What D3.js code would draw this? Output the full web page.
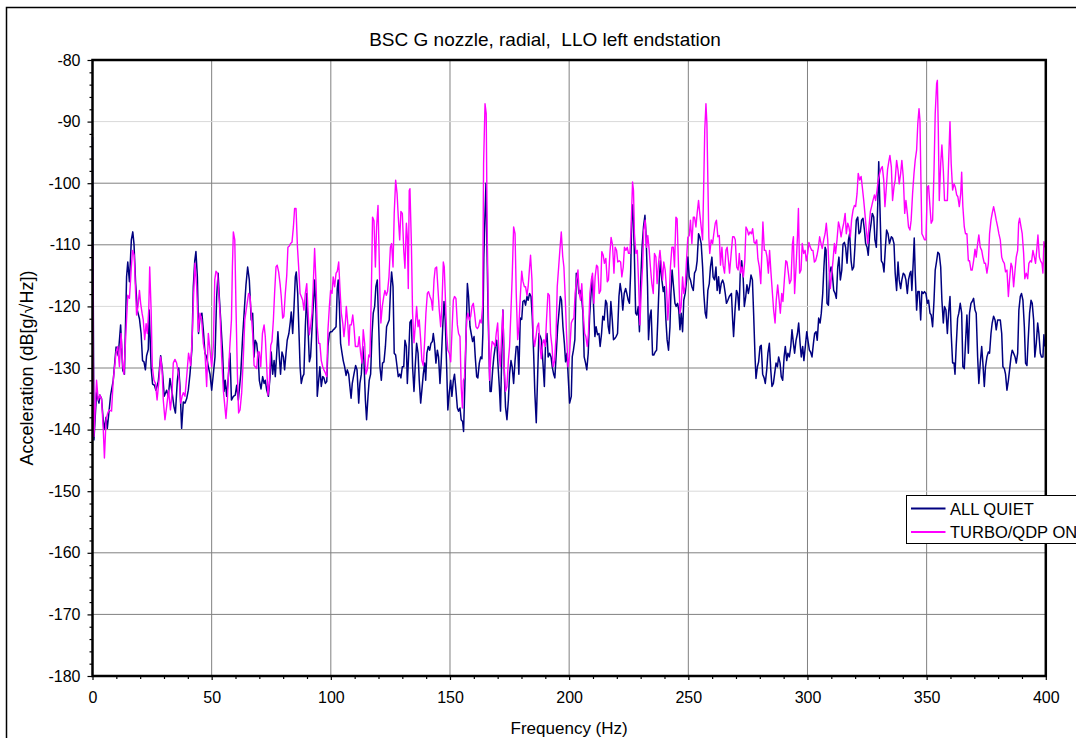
<!DOCTYPE html>
<html>
<head>
<meta charset="utf-8">
<script src="https://cdn.jsdelivr.net/npm/d3@7"></script>
<style>
	body { margin: 0; background: #fff; }
	svg { display: block; font-family: 'Liberation Sans', Arial, sans-serif; }
</style>
</head>
<body>
<script>
const title = 'BSC G nozzle, radial,  LLO left endstation';
const xTitle = 'Frequency (Hz)';
const yTitle = 'Acceleration (dB[g/\u221AHz])';
const seriesNames = ['ALL QUIET', 'TURBO/QDP ON'];

const xTicks = [0, 50, 100, 150, 200, 250, 300, 350, 400];
const xMinorTicks = [10, 20, 30, 40, 60, 70, 80, 90, 110, 120, 130, 140, 160, 170, 180, 190, 210, 220, 230, 240, 260, 270, 280, 290, 310, 320, 330, 340, 360, 370, 380, 390];
const yTicks = [-180, -170, -160, -150, -140, -130, -120, -110, -100, -90, -80];
const yLightGrid = [-90, -120, -150];

// ALL QUIET
const quietHz = [
	0, 0.6, 1.7, 2.7, 3.1, 3.8, 4.8, 5.7, 6.2, 7, 7.6, 8.7, 9.9, 10.8, 11.8, 12.7, 13.4, 14.3, 14.8, 15.5,
	16.3, 16.9, 17.4, 18.1, 18.8, 19.7, 20.4, 21, 21.6, 22.2, 22.7, 23.4, 23.8, 24.6, 25.2, 26, 26.6, 27.6, 28.6, 29.3,
	30.1, 31.1, 31.8, 32.5, 33.4, 34.2, 34.8, 35.6, 36.2, 36.7, 37.4, 38.1, 38.8, 39.5, 40.2, 40.9, 41.7, 42.3, 42.9, 43.4,
	44, 44.5, 45.1, 45.9, 46.5, 47.2, 47.9, 48.6, 49.3, 50, 50.7, 51.4, 52.1, 52.7, 53.2, 53.8, 54.6, 55.2, 55.7, 56.3,
	56.9, 57.7, 58.3, 59.1, 59.9, 60.5, 61.2, 62.2, 63, 63.8, 64.4, 65.1, 65.8, 66.6, 67.2, 67.8, 68.3, 68.9, 69.6, 70,
	70.7, 71.4, 72, 72.5, 73.1, 73.8, 74.5, 75, 75.6, 76.2, 76.7, 77.3, 77.8, 78.4, 78.9, 79.5, 80.1, 80.6, 81.2, 81.7,
	82.4, 83, 83.4, 84, 84.5, 85.1, 85.5, 86.1, 86.6, 87.1, 87.6, 88.2, 88.7, 89.3, 89.9, 90.4, 91, 91.5, 92.1, 92.6,
	93.2, 93.8, 94.3, 94.9, 95.4, 96, 96.6, 97.1, 97.7, 98.3, 98.8, 99.4, 99.9, 100.5, 101, 101.6, 102.2, 102.7, 103.1, 103.6,
	104.1, 104.7, 105.2, 105.8, 106.4, 106.9, 107.5, 108, 108.5, 109, 109.7, 110.4, 111, 111.7, 112.2, 112.8, 113.4, 113.9, 114.5, 115,
	115.6, 116.1, 116.7, 117.3, 117.8, 118.4, 118.9, 119.5, 120.1, 120.6, 121.2, 121.7, 122.3, 122.9, 123.4, 124, 124.5, 125.1, 125.5, 126.1,
	126.6, 127.2, 127.8, 128.3, 128.9, 129.4, 130, 130.6, 131.1, 131.7, 132.1, 132.7, 133.2, 133.8, 134.3, 134.9, 135.4, 136, 136.6, 137.1,
	137.7, 138.2, 138.8, 139.4, 139.8, 140.3, 140.9, 141.5, 142, 142.6, 143, 143.5, 144.1, 144.7, 145.2, 145.8, 146.3, 146.9, 147.5, 148,
	148.6, 149.1, 149.7, 150.3, 150.8, 151.4, 151.9, 152.5, 153.1, 153.6, 154.2, 154.7, 155.3, 155.7, 156.3, 156.7, 157.3, 157.8, 158.4, 158.9,
	159.5, 160.1, 160.6, 161.2, 161.7, 162.3, 162.9, 163.4, 163.8, 164.2, 164.7, 165.1, 165.5, 165.9, 166.3, 166.8, 167.3, 167.9, 168.4, 169,
	169.6, 170.1, 170.7, 171.2, 171.8, 172.2, 172.8, 173.3, 173.9, 174.5, 175, 175.6, 176.1, 176.7, 177.3, 177.8, 178.4, 178.9, 179.5, 180.1,
	180.6, 181.2, 181.7, 182.3, 182.8, 183.4, 184, 184.5, 185.1, 185.6, 186.2, 186.8, 187.3, 187.9, 188.4, 189, 189.6, 190.1, 190.7, 191.2,
	191.8, 192.4, 192.9, 193.5, 194, 194.6, 195.2, 195.7, 196.3, 196.8, 197.4, 198, 198.5, 199.1, 199.6, 200.2, 200.9, 201.3, 201.8, 202.4,
	203, 203.5, 204.1, 204.6, 205.2, 205.8, 206.3, 206.9, 207.4, 208, 208.6, 209.1, 209.7, 210.2, 210.8, 211.3, 211.9, 212.5, 213, 213.6,
	214.1, 214.7, 215.3, 215.8, 216.4, 216.9, 217.5, 218.1, 218.6, 219.2, 219.7, 220.3, 220.9, 221.4, 222, 222.5, 223.1, 223.7, 224.2, 224.8,
	225.3, 225.8, 226.3, 226.7, 227.3, 227.9, 228.4, 229, 229.5, 230.1, 230.6, 231.2, 231.8, 232.3, 232.9, 233.3, 233.9, 234.4, 235, 235.5,
	236.1, 236.7, 237.2, 237.8, 238.3, 238.9, 239.5, 240, 240.6, 241.1, 241.7, 242.3, 242.7, 243.2, 243.8, 244.4, 244.9, 245.5, 246, 246.5,
	247, 247.6, 248.1, 248.7, 249.3, 249.8, 250.4, 250.9, 251.5, 252.1, 252.6, 253.2, 253.7, 254.3, 254.8, 255.4, 256, 256.5, 257.1, 257.6,
	258.2, 258.8, 259.3, 259.9, 260.4, 261, 261.6, 262.1, 262.7, 263.2, 263.8, 264.4, 264.9, 265.5, 266, 266.6, 267.2, 268.1, 268.6, 269,
	269.6, 270.2, 270.7, 271.3, 271.8, 272.4, 273, 273.5, 274.1, 274.6, 275.2, 275.8, 276.3, 276.9, 277.4, 278, 278.4, 279, 279.5, 280.1,
	280.6, 281.2, 281.8, 282.3, 282.9, 283.4, 284, 284.6, 285.1, 285.7, 286.2, 286.8, 287.4, 287.9, 288.5, 289, 289.6, 290.2, 290.7, 291.3,
	291.8, 292.4, 293, 293.5, 294.1, 294.6, 295.2, 295.8, 296.3, 296.9, 297.4, 298, 298.5, 299.1, 299.7, 300.2, 300.8, 301.3, 301.9, 302.5,
	303, 303.6, 304.1, 304.7, 305.3, 305.8, 306.4, 306.9, 307.4, 307.8, 308.2, 308.8, 309.3, 309.9, 310.4, 311, 311.6, 312.1, 312.7, 313.2,
	313.8, 314.4, 314.9, 315.5, 316, 316.6, 317.2, 317.7, 318.3, 318.8, 319.4, 319.9, 320.5, 321.1, 321.6, 322.2, 322.7, 323.3, 323.9, 324.4,
	325, 325.5, 326.1, 326.7, 327.2, 327.8, 328.3, 328.9, 329.5, 329.9, 330.4, 331, 331.6, 332.1, 332.7, 333.2, 333.8, 334.4, 335.2, 335.7,
	336.3, 336.8, 337.4, 338, 338.5, 339.1, 339.6, 340.2, 340.8, 341.3, 341.9, 342.4, 343, 343.4, 343.8, 344.4, 344.8, 345.2, 345.8, 346.3,
	346.9, 347.5, 348, 348.6, 349.1, 349.7, 350.3, 350.8, 351.4, 351.9, 352.5, 353.1, 353.6, 354.2, 354.7, 355.3, 355.9, 356.4, 357, 357.5,
	358.1, 358.7, 359.2, 359.8, 360.3, 360.9, 361.5, 361.9, 362.4, 363, 363.5, 364.1, 364.7, 365.2, 365.8, 366.3, 366.9, 367.5, 368, 368.6,
	369.1, 369.7, 370.3, 370.8, 371.4, 371.9, 372.5, 373.1, 373.6, 374.2, 374.7, 375.3, 375.9, 376.4, 377, 377.5, 378.1, 378.7, 379.2, 379.8,
	380.3, 380.9, 381.5, 382, 382.6, 383.1, 383.7, 384.3, 384.8, 385.4, 385.9, 386.5, 387.1, 387.6, 388.2, 388.7, 389.3, 389.8, 390.4, 391,
	391.5, 392.1, 392.6, 393.2, 393.8, 394.3, 394.9, 395.4, 396, 396.6, 397.1, 397.7, 398.2, 398.8, 399.2, 399.5
];
const quietDb = [
	-92.5, -141.7, -134, -135.7, -134.4, -135, -140, -138, -139.8, -136.8, -134.4, -132, -126.6, -128, -123, -130.4, -131, -115.2, -112.8, -116,
	-109.2, -107.9, -109.8, -116.3, -120.6, -122, -124.4, -128.8, -129, -130.3, -128, -127, -120.6, -130, -132.6, -132.8, -133.6, -132.2, -128, -130.3,
	-134.6, -133.6, -134.6, -131.7, -134, -136.3, -137.3, -132, -130, -133, -139.8, -135.5, -135.7, -135, -133.6, -131, -127, -116.8, -112.6, -111.1,
	-115.2, -124.4, -121.7, -121.1, -123.8, -127.6, -128.2, -129.8, -131, -133.6, -131, -128.2, -118.4, -114.6, -118.4, -122.2, -127.6, -133.8, -132, -134.6,
	-132, -127.6, -135.2, -134.6, -134.4, -132.8, -135.2, -131, -124.9, -120, -116.5, -113.6, -115.7, -122.2, -121.1, -128.2, -125.5, -126, -128.8, -132,
	-133.4, -131.4, -132.5, -132, -133.6, -134.6, -131.4, -127.4, -131, -128.8, -131.4, -127.6, -124.1, -128.2, -131, -127.4, -128.2, -130.3, -127.6, -125.5,
	-124.4, -122.5, -120.9, -124.4, -120.6, -115.2, -114.4, -117.9, -123.8, -129.8, -132.5, -131.4, -131, -123.3, -117.9, -123.3, -129, -128.2, -123.8, -120,
	-115.7, -121.1, -134.6, -132, -129.8, -133, -131.4, -131.6, -132.5, -132.2, -126.5, -124.4, -124.1, -124.1, -123.8, -123.6, -123.3, -117.1, -115.7, -120,
	-126, -127.6, -128.8, -129.8, -131.2, -130.3, -131, -133, -134.9, -132.5, -131, -129.6, -130.3, -135.7, -132.5, -131, -126.5, -128.8, -135.2, -138.4,
	-134.6, -132, -131, -124.4, -121.1, -120, -116.8, -115.7, -123.3, -129.8, -132, -129.2, -129, -126.5, -123.3, -122.7, -122.2, -116.8, -114.4, -116.8,
	-127.6, -127.9, -129.8, -131.4, -131, -131.6, -129.8, -129.8, -125.5, -126.5, -132.5, -127.6, -122.6, -122.2, -129.8, -133.8, -129.8, -126, -127.6, -132,
	-135.7, -133.6, -131, -129.2, -132, -127.6, -126.5, -127.1, -126, -125.7, -124.4, -126, -129.2, -127.1, -128.2, -132.5, -129.2, -123.8, -119.2, -122.2,
	-129.8, -136.8, -134, -132, -134.6, -132, -131, -133.6, -136.5, -137, -136.5, -138.4, -138.7, -140.3, -132, -125.5, -116.3, -118.4, -123.3, -124.4,
	-125.7, -124.9, -128.2, -131.4, -131.6, -129.2, -128.2, -128.5, -124.4, -112, -105, -100, -110, -119, -126.5, -133.8, -133.8, -130.3, -128.2, -126.5,
	-125.5, -129.2, -133, -137, -126.5, -120.6, -131, -136.3, -138.4, -135.2, -131, -128.8, -129.8, -132.5, -128.8, -126.5, -126.5, -131, -121.9, -122.1,
	-119.2, -119, -119.8, -118.4, -119, -117.9, -118.4, -121.6, -127.6, -134, -138.9, -131, -124.4, -124.9, -125.5, -129.2, -133, -126, -124.4, -128.2,
	-127.6, -128.2, -129.8, -131, -131.6, -127.6, -123.3, -121.1, -118.4, -119, -123.3, -126, -129, -127.6, -131.4, -135.7, -134.6, -128.2, -127.1, -125.4,
	-114.6, -115.2, -117.9, -117.4, -118.4, -121.1, -128.2, -129.2, -130.3, -127.6, -121.6, -118.4, -115.2, -119.5, -124.9, -123.3, -124.6, -124.4, -126.5, -124.4,
	-121.6, -122.2, -119, -119.5, -123.3, -124.4, -119.2, -122.2, -125.4, -125.2, -124.9, -124.4, -118.4, -116.3, -117.9, -120.6, -117.9, -117.1, -117.9, -119,
	-119.5, -114.6, -105, -103.5, -110.4, -121.1, -121.4, -120, -124.1, -115.2, -110.4, -107.1, -105.2, -108.7, -116.8, -125.4, -121.6, -120.6, -127.9, -127.9,
	-127.4, -127.1, -122.2, -115.7, -112.6, -115.7, -117.6, -116.8, -122.2, -125.4, -127.1, -123.3, -117.9, -114.1, -116.8, -119.5, -120, -119.5, -120.6, -123.8,
	-121.1, -124.1, -119, -117.9, -115.7, -112, -115.2, -115.7, -116.8, -117.4, -114.6, -114.1, -112.6, -108.2, -108.7, -109.8, -113.6, -117.9, -121.1, -121.9,
	-117.4, -116.3, -113.6, -112, -115.2, -115.7, -113.6, -117.4, -115.2, -117.9, -116.3, -115.7, -116.3, -117.9, -119.5, -119, -118.4, -117.9, -122.2, -124.9,
	-120.6, -117.4, -117.9, -120.6, -114.6, -112.6, -115.2, -120, -118.4, -116.5, -117.9, -116.5, -114.9, -115.7, -121.1, -128.2, -131.7, -129.8, -129, -126.5,
	-126.3, -131, -131.6, -132.5, -130.3, -127.6, -126, -130.3, -133, -132.5, -131, -129.2, -129.8, -128.2, -129.2, -131.4, -132, -128.2, -126.5, -128.8,
	-127.6, -128.2, -126.5, -123.8, -126, -127.6, -125.5, -124.4, -122.7, -126, -128.2, -126.5, -128.8, -126.5, -124.1, -125.5, -127.1, -127.4, -128.2, -126,
	-124.4, -124.1, -125.5, -121.9, -122.7, -121.1, -117.9, -113.6, -110.4, -110.9, -119.5, -119.8, -114.6, -113.6, -114.6, -117.4, -117.9, -118.7, -113.6, -112,
	-115.7, -114.1, -109.9, -109.6, -110.4, -113, -109.2, -108.2, -112.6, -114.1, -113.6, -110.4, -106, -105.5, -108.2, -107.9, -106, -105.7, -107.6, -109.8,
	-110.4, -111.7, -108.2, -106.5, -104.9, -105.5, -109.2, -110.4, -103.3, -96.5, -103.8, -112.6, -113, -114.4, -110.4, -107.6, -108.2, -109.8, -108.7, -108.9,
	-109.8, -114.6, -117.4, -112.8, -115.7, -117.1, -115.7, -114.6, -114.9, -115.7, -117.9, -115.7, -114.6, -114.3, -117.4, -112.6, -108.9, -114.6, -120.6, -117.6,
	-117.6, -122.2, -117.6, -117.9, -117.6, -117.9, -119.5, -119, -121.1, -121.4, -123.3, -119, -114.1, -112.6, -111.2, -111.5, -113.6, -119, -122.7, -120,
	-120.6, -124.4, -121.1, -118.4, -124.4, -129.2, -129.2, -131, -126.5, -121.9, -121.1, -119.5, -121.1, -129.8, -130.1, -126, -121.4, -127.6, -121.1, -119.5,
	-119.2, -118.7, -120.6, -121.1, -128.2, -132.5, -129.2, -126.5, -129.2, -133, -129.8, -128.2, -127.4, -127.6, -124.4, -122.7, -121.6, -122.2, -123.8, -122.2,
	-122.2, -122.2, -124.4, -129.8, -130.1, -131, -133.6, -132, -130.3, -128.2, -127.1, -127.6, -128.2, -129.2, -127.6, -120.6, -118.4, -117.9, -119, -123.3,
	-129.2, -129.6, -125.5, -121.1, -119, -119.5, -122.2, -128.2, -126, -122.7, -124.4, -127.6, -128.2, -128.2, -124.6, -126.5
];

// TURBO/QDP ON
const turboHz = [
	0, 0.6, 1.7, 2.4, 3.1, 3.8, 4.5, 5, 5.7, 6.4, 7, 8, 8.7, 9.9, 10.6, 11.3, 12, 12.7, 13.2, 14,
	14.8, 15.5, 16.3, 16.8, 17.5, 18.1, 18.5, 19.1, 19.7, 20.2, 20.8, 21.3, 21.9, 22.5, 23, 23.6, 24, 24.6, 25.1, 25.8,
	26.4, 27.1, 27.9, 28.6, 29.2, 29.7, 30.4, 31.1, 31.9, 32.7, 33.4, 33.9, 34.6, 35.3, 36, 36.4, 37, 37.6, 38.1, 38.8,
	39.5, 40.3, 41.2, 41.9, 42.4, 43, 43.7, 44.4, 45.1, 45.8, 46.5, 47.2, 47.9, 48.6, 49.3, 50, 50.7, 51.3, 51.8, 52.4,
	52.9, 53.5, 54.2, 54.9, 55.4, 56, 56.6, 57.1, 57.7, 58.3, 58.7, 59.1, 59.7, 60.2, 60.8, 61.3, 61.9, 62.6, 63.3, 63.9,
	64.7, 65.5, 66.1, 66.6, 67.2, 67.8, 68.3, 68.9, 69.4, 70, 70.6, 71.3, 72, 72.5, 73.1, 73.6, 74.2, 74.8, 75.3, 75.9,
	76.4, 77, 77.5, 78.1, 78.7, 79.2, 79.8, 80.3, 80.9, 81.5, 82, 82.6, 83.1, 83.7, 84.3, 84.8, 85.4, 86, 86.5, 87.1,
	87.6, 88.2, 88.7, 89.3, 89.9, 90.4, 91, 91.5, 92.1, 92.6, 93.2, 93.8, 94.3, 94.9, 95.4, 96, 96.6, 97.1, 97.7, 98.3,
	98.8, 99.4, 99.9, 100.5, 101, 101.6, 102.2, 102.7, 103.3, 103.8, 104.4, 105, 105.5, 106.1, 106.5, 107.1, 107.6, 108, 108.6, 109.2,
	109.7, 110.3, 110.8, 111.4, 111.9, 112.5, 113.1, 113.6, 114.2, 114.7, 115.3, 115.9, 116.4, 117, 117.5, 118.1, 118.7, 119.2, 119.8, 120.2,
	120.6, 121, 121.6, 122.2, 122.7, 123.3, 123.8, 124.4, 125, 125.5, 126.1, 126.6, 127.2, 127.8, 128.3, 128.9, 129.4, 130, 130.6, 131.1,
	131.7, 132.1, 132.5, 132.9, 133.2, 133.8, 134.3, 134.9, 135.4, 136, 136.6, 137.1, 137.7, 138.2, 138.8, 139.4, 139.9, 140.5, 141, 141.6,
	142.2, 142.7, 143.3, 143.8, 144.4, 144.9, 145.5, 146.1, 146.6, 147.2, 147.6, 148, 148.6, 149.1, 149.7, 150.3, 150.8, 151.4, 151.9, 152.5,
	153.1, 153.6, 154.2, 154.7, 155.2, 155.6, 156.1, 156.6, 157, 157.5, 158.1, 158.7, 159.2, 159.8, 160.3, 160.9, 161.5, 162, 162.6, 163.1,
	163.7, 164.1, 164.7, 165.2, 165.6, 166.1, 166.6, 167.2, 167.7, 168.3, 168.9, 169.4, 170, 170.5, 171.1, 171.7, 172.2, 172.8, 173.3, 173.9,
	174.5, 175, 175.6, 176.1, 176.7, 177.3, 177.8, 178.4, 178.9, 179.5, 180.1, 180.6, 181.2, 181.7, 182.3, 182.8, 183.4, 183.8, 184.4, 184.9,
	185.5, 186.1, 186.6, 187.2, 187.7, 188.3, 188.9, 189.4, 190, 190.5, 191.1, 191.7, 192.2, 192.8, 193.3, 193.9, 194.5, 195, 195.6, 196.1,
	196.7, 197.3, 197.8, 198.4, 198.9, 199.5, 200.1, 200.9, 201.4, 202, 202.5, 203.1, 203.7, 204.2, 204.8, 205.3, 205.9, 206.5, 207, 207.6,
	208.1, 208.7, 209.3, 209.8, 210.4, 210.9, 211.5, 212, 212.6, 213.2, 213.7, 214.3, 214.8, 215.4, 216, 216.5, 217.1, 217.6, 218.2, 218.8,
	219.3, 219.9, 220.4, 221, 221.6, 222.1, 222.7, 223.2, 223.8, 224.4, 224.9, 225.5, 226, 226.6, 227, 227.4, 228, 228.6, 229.1, 229.7,
	230.2, 230.8, 231.3, 231.9, 232.5, 233, 233.6, 234.1, 234.7, 235.3, 235.8, 236.4, 236.9, 237.5, 238.1, 238.6, 239.2, 239.7, 240.3, 240.9,
	241.4, 242, 242.5, 243.1, 243.7, 244.2, 244.8, 245.3, 245.9, 246.5, 247, 247.6, 248.1, 248.7, 249.2, 249.8, 250.4, 250.9, 251.5, 252.1,
	252.6, 253.2, 253.7, 254.3, 254.8, 255.4, 256, 256.5, 256.9, 257.4, 257.8, 258.2, 258.6, 259, 259.6, 260.2, 260.7, 261.3, 261.8, 262.4,
	263, 263.5, 264.1, 264.6, 265.2, 265.8, 266.3, 266.9, 267.3, 268.1, 268.6, 269.2, 269.7, 270.3, 270.9, 271.4, 272, 272.5, 273.1, 273.7,
	274.2, 274.8, 275.3, 275.9, 276.5, 277, 277.6, 278.1, 278.7, 279.2, 279.8, 280.4, 280.9, 281.3, 281.9, 282.5, 283, 283.6, 284.1, 284.7,
	285.3, 285.8, 286.4, 286.9, 287.5, 288.1, 288.6, 289.2, 289.7, 290.3, 290.9, 291.4, 292, 292.5, 293.1, 293.7, 294.1, 294.6, 295.2, 295.8,
	296.2, 296.7, 297.3, 297.8, 298.4, 299, 299.5, 300.1, 300.6, 301.2, 301.8, 302.3, 302.9, 303.4, 304, 304.6, 305.1, 305.7, 306.2, 306.8,
	307.4, 307.9, 308.5, 309, 309.6, 310.2, 310.7, 311.3, 311.8, 312.4, 313, 313.5, 314.1, 314.6, 315.2, 315.8, 316.3, 316.9, 317.4, 318,
	318.5, 319.1, 319.7, 320.2, 320.8, 321.3, 321.9, 322.5, 323, 323.6, 324.1, 324.7, 325.3, 325.8, 326.4, 326.9, 327.5, 328.1, 328.6, 329.2,
	329.7, 330.3, 330.9, 331.4, 332, 332.5, 333.1, 333.6, 334.2, 334.6, 335.2, 335.7, 336.3, 336.8, 337.4, 338, 338.5, 339.1, 339.6, 340.2,
	340.8, 341.3, 341.9, 342.4, 343, 343.5, 344.1, 344.7, 345.2, 345.8, 346.3, 346.8, 347.2, 347.6, 348, 348.6, 349.1, 349.7, 350.3, 350.8,
	351.4, 351.9, 352.5, 353.1, 353.6, 354.2, 354.5, 354.9, 355.3, 355.9, 356.4, 357, 357.5, 358.1, 358.7, 359.2, 359.8, 360.3, 360.9, 361.5,
	362, 362.6, 363.1, 363.7, 364.3, 364.7, 365.2, 365.8, 366.3, 366.9, 367.5, 368, 368.6, 369.1, 369.7, 370.3, 370.8, 371.4, 371.9, 372.5,
	373.1, 373.6, 374.2, 374.7, 375.3, 375.9, 376.4, 377, 377.5, 378.1, 378.7, 379.2, 379.8, 380.3, 380.9, 381.5, 382, 382.6, 383.1, 383.7,
	384.3, 384.8, 385.4, 385.9, 386.5, 387.1, 387.6, 388.2, 388.6, 389, 389.6, 390.1, 390.7, 391.2, 391.8, 392.4, 392.9, 393.5, 394, 394.6,
	395.2, 395.7, 396.3, 396.7, 397.3, 397.8, 398.4, 398.8, 399.2, 399.6
];
const turboDb = [
	-109.8, -141.1, -132, -135.2, -134.4, -135, -139.8, -144.6, -138.4, -137.3, -136.8, -137, -132, -127.4, -126.5, -129.8, -124.4, -129.6, -131, -124.4,
	-118.2, -118.7, -113.6, -110.9, -111.7, -117.9, -121.4, -120, -117.4, -119.5, -121.1, -122.2, -125.4, -122.8, -124.4, -120.6, -113.6, -120.6, -129.8, -132,
	-132.5, -135.2, -132, -128.2, -130.3, -135.2, -138.4, -136.3, -133.6, -136.8, -134, -129.2, -128.6, -129.2, -130.8, -132, -135.7, -134.6, -134, -134.6,
	-131.5, -127.6, -129.6, -124.4, -118.4, -113, -116.8, -124.1, -121.1, -122.2, -126, -127.6, -133, -124.4, -127.1, -129.8, -126.5, -115.7, -114.3, -114.6,
	-117.4, -121.1, -128.2, -133.6, -135.7, -138.2, -135.2, -130.3, -126, -122.2, -113.6, -107.9, -109.2, -120, -131, -137.3, -136.8, -134, -128.2, -122.2,
	-120, -117.9, -118.4, -121.1, -124.4, -129.6, -129.8, -130.1, -127.4, -127.4, -129.8, -124.4, -123, -124.9, -129.8, -134.4, -132.5, -126.3, -125.7, -122.2,
	-117.9, -113.6, -113.3, -114.4, -116.3, -118.4, -121.9, -121.6, -117.9, -115, -110.4, -110.2, -109.8, -109.6, -107.1, -104.1, -104.1, -110.4, -113.6, -117.9,
	-118.4, -119, -120.6, -117.9, -116.3, -120.6, -124.6, -123.3, -121.1, -116.8, -110.6, -116.3, -123.3, -126, -126, -128.8, -129.8, -130.3, -130.8, -131.4,
	-123.8, -120, -117.4, -117.9, -115.2, -116.8, -114.6, -114.3, -112.8, -116.8, -121.1, -122.7, -124.9, -122.7, -120, -122.7, -126.3, -123, -123, -121.4,
	-123.3, -126.5, -126.5, -126.5, -124.9, -127.6, -129.2, -123.8, -126, -131, -130.3, -127.9, -128.2, -117.9, -105.5, -106.1, -113.6, -107.1, -103.6, -110.4,
	-117.9, -122.7, -120, -118.4, -117.4, -118.2, -117.6, -115.2, -110.4, -109.8, -113.6, -104.9, -99.5, -101.7, -105.5, -109.2, -104.6, -104.9, -110.9, -113.8,
	-106.5, -108.7, -117.1, -101.2, -100.9, -109.8, -121.1, -125.9, -123.3, -120, -123.3, -122.2, -125.4, -128.8, -129.6, -125.4, -121.1, -117.9, -117.6, -118.4,
	-119, -120.6, -115.7, -113.8, -113.6, -116.8, -120.6, -123.3, -120, -112.8, -113.6, -117.9, -124.4, -127.1, -127.6, -129, -124.4, -119, -118.4, -118.7,
	-123, -124.4, -124.9, -133, -136.5, -132, -131.6, -126, -122.2, -121.1, -122.2, -121.6, -120, -119.5, -121.1, -123.3, -123.6, -123.3, -122.2, -122.7,
	-120, -96.8, -87.1, -88.7, -107.6, -121.1, -132, -127.6, -125.7, -126, -126.5, -124.4, -122.7, -127.1, -129.8, -124.4, -120.6, -130.3, -133.8, -133,
	-128.8, -126.5, -120.6, -115.2, -107.1, -108.2, -117.9, -125.4, -123.3, -118.4, -114.3, -115.9, -116.8, -116.8, -118.2, -116.8, -113.6, -111.7, -115.7, -124.4,
	-126.5, -124.9, -123.3, -122.7, -126, -128.5, -126, -125.4, -126.5, -122.2, -117.9, -118.2, -124.4, -126.5, -129.8, -128.8, -124.9, -116.8, -113.6, -110.9,
	-107.9, -111.9, -113.6, -119, -124.4, -129.8, -128.2, -122.7, -122.2, -121.9, -117.9, -115.7, -114.1, -117.9, -119, -116.3, -121.1, -124.4, -124.9, -126.5,
	-124.4, -117.9, -115.7, -114.6, -119.5, -115.2, -113.3, -113.6, -117.9, -117.4, -111.1, -111.7, -113, -112.2, -116, -115.7, -111.4, -108.8, -110, -114.6,
	-110.4, -110.9, -112.8, -112.6, -112.8, -115.2, -113.6, -110.4, -110.9, -110.4, -111.4, -111.4, -107.1, -99.8, -101.2, -108.2, -111.4, -110.9, -115.7, -123,
	-117.9, -113.6, -107.6, -106, -110.4, -108.5, -110.9, -113.6, -116.3, -117.9, -111.4, -112, -116.3, -113, -110.9, -113, -115.7, -112.8, -114.1, -117.4,
	-122.2, -118.4, -113.6, -110.4, -110.4, -113.6, -105.5, -105.8, -113.6, -121.1, -120, -115.2, -117.9, -116.8, -112.8, -108.8, -108.5, -106, -109.8, -105.5,
	-105.5, -107.1, -104.9, -102.8, -104.9, -107.1, -109.2, -99.5, -91.4, -87.1, -90.3, -99.5, -108.7, -111.4, -109.2, -109.8, -108.2, -106.5, -106, -108.7,
	-108.5, -113.3, -110.4, -113.3, -114.6, -110.9, -110.4, -112.8, -114.6, -110.9, -108.7, -108.7, -109.2, -113.6, -114.1, -111.4, -114.6, -113.6, -115.2, -112.6,
	-107.1, -107.6, -108.4, -107.9, -108.2, -107.4, -109.6, -109.8, -109.2, -112.3, -113.6, -116.3, -110.9, -106.3, -110.9, -110.9, -111.9, -114.6, -110.9, -114.6,
	-117.9, -120.6, -122.7, -119, -116.5, -119, -121.1, -117.9, -119.2, -115.7, -112.6, -112.8, -114.6, -116.3, -115.7, -109.8, -108.7, -117.9, -113.6, -108.7,
	-104.1, -114.6, -114.1, -109.8, -111.4, -110.9, -112.6, -111.4, -109.6, -110.4, -110.9, -110.9, -112.8, -112.6, -111.7, -110.4, -108.7, -109.8, -110.6, -109.2,
	-108.2, -106.5, -109.2, -113.6, -117.1, -114.6, -112.6, -109.8, -111.4, -109.2, -106.3, -107.1, -108.7, -107.6, -106.5, -104.9, -108.2, -106.5, -107.1, -108.7,
	-106, -104.4, -103.6, -103.8, -101.7, -98.4, -99.5, -98.9, -100.6, -102.8, -104.9, -107.6, -109.8, -107.1, -104.6, -103.8, -102.8, -101.9, -102.8, -101.1,
	-99.5, -98.4, -97.6, -97.3, -99.5, -103.8, -100.6, -97.8, -96.3, -95.5, -97.4, -102.8, -100.6, -99.5, -96.3, -97.9, -100.1, -98.4, -96.3, -99,
	-104.9, -102.8, -104.9, -107.1, -107.6, -106, -101.7, -98.4, -96.3, -94.6, -90.3, -87.9, -89.8, -99.5, -108.2, -108.7, -109.2, -109.2, -100.6, -100.4,
	-103.8, -106.5, -106, -97.9, -88.7, -83.8, -83.3, -91.4, -102.8, -96.8, -93.8, -97.9, -102.8, -102.8, -102.8, -96.8, -90, -96.8, -101.1, -100.1,
	-100.6, -101.9, -102.2, -103.8, -101.7, -98.2, -103.8, -107.1, -108.2, -108.2, -112.6, -112.6, -114.1, -114.1, -112.6, -110.7, -112, -109.8, -108.4, -110.4,
	-110.9, -112, -113, -113, -114.6, -113, -108.2, -106, -104.9, -103.8, -104.9, -106, -107.1, -108.2, -109.2, -112, -112.6, -113, -114.4, -114.1,
	-118.4, -115.7, -113, -113.6, -116.8, -114.1, -112, -110.9, -106.5, -105.7, -107.1, -108.2, -111.4, -115.5, -114.6, -115.5, -113, -112.6, -112.8, -110.9,
	-112, -113, -110.4, -108.4, -112, -112.6, -113, -114.6, -109.5, -110.4
];

const w = 1076;
const h = 738;
const plot = { left: 92.5, right: 1045.8, top: 60, bottom: 676 };
const font = "'Liberation Sans', Arial, sans-serif";

const svg = d3.select('body').append('svg')
	.attr('width', w)
	.attr('height', h);

svg.append('rect')
	.attr('width', w)
	.attr('height', h)
	.attr('fill', '#fff');

// chart area border (runs off the right and bottom of the picture)
svg.append('rect')
	.attr('x', 6.5)
	.attr('y', 7.5)
	.attr('width', 1200)
	.attr('height', 900)
	.attr('fill', 'none')
	.attr('stroke', '#000')
	.attr('stroke-width', 1.5);

const x = d3.scaleLinear()
	.domain([0, 400])
	.range([plot.left, plot.right]);

const y = d3.scaleLinear()
	.domain([-180, -80])
	.range([plot.bottom, plot.top]);

// gridlines
svg.append('g')
	.selectAll('line')
	.data(xTicks.slice(1, -1))
	.enter()
	.append('line')
	.attr('x1', d => x(d))
	.attr('x2', d => x(d))
	.attr('y1', plot.top)
	.attr('y2', plot.bottom)
	.attr('stroke', '#808080')
	.attr('stroke-width', 1);

svg.append('g')
	.selectAll('line')
	.data(yTicks.slice(1, -1))
	.enter()
	.append('line')
	.attr('x1', plot.left)
	.attr('x2', plot.right)
	.attr('y1', d => y(d))
	.attr('y2', d => y(d))
	.attr('stroke', d => yLightGrid.includes(d) ? '#d9d9d9' : '#808080')
	.attr('stroke-width', 1);

// series
const line = d3.line()
	.x(d => x(d[0]))
	.y(d => y(d[1]));

svg.append('path')
	.datum(d3.zip(quietHz, quietDb))
	.attr('d', line)
	.attr('fill', 'none')
	.attr('stroke', '#000080')
	.attr('stroke-width', 1.5)
	.attr('stroke-linejoin', 'round');

svg.append('path')
	.datum(d3.zip(turboHz, turboDb))
	.attr('d', line)
	.attr('fill', 'none')
	.attr('stroke', '#ff00ff')
	.attr('stroke-width', 1.4)
	.attr('stroke-linejoin', 'round');

// axes
const yAxis = d3.axisLeft(y)
	.tickValues(yTicks)
	.tickSize(5)
	.tickPadding(7)
	.tickFormat(d => String(d));

const yMinor = d3.axisLeft(y)
	.tickValues(d3.range(-180, -79, 2).filter(d => d % 10 !== 0))
	.tickSize(3)
	.tickFormat('');

const xAxis = d3.axisBottom(x)
	.tickValues(xTicks)
	.tickSize(4)
	.tickPadding(12)
	.tickFormat(d => String(d));

const xMinor = d3.axisBottom(x)
	.tickValues(xMinorTicks)
	.tickSize(3)
	.tickFormat('');

[
	svg.append('g').attr('transform', `translate(${plot.left},0)`).call(yAxis),
	svg.append('g').attr('transform', `translate(${plot.left},0)`).call(yMinor),
	svg.append('g').attr('transform', `translate(0,${plot.bottom})`).call(xAxis),
	svg.append('g').attr('transform', `translate(0,${plot.bottom})`).call(xMinor)
].forEach(g => {
	g.select('.domain').remove();
	g.selectAll('line').attr('stroke', '#000').attr('stroke-width', 1.2);
	g.selectAll('text')
		.attr('fill', '#000')
		.style('font-family', font)
		.style('font-size', '16px');
});

// plot frame
svg.append('rect')
	.attr('x', plot.left)
	.attr('y', plot.top)
	.attr('width', plot.right - plot.left)
	.attr('height', plot.bottom - plot.top)
	.attr('fill', 'none')
	.attr('stroke', '#000')
	.attr('stroke-width', 2.5);

// titles
svg.append('text')
	.attr('x', 545)
	.attr('y', 46)
	.attr('text-anchor', 'middle')
	.style('font-family', font)
	.style('font-size', '19px')
	.style('white-space', 'pre')
	.text(title);

svg.append('text')
	.attr('x', (plot.left + plot.right) / 2)
	.attr('y', 734)
	.attr('text-anchor', 'middle')
	.style('font-family', font)
	.style('font-size', '17px')
	.text(xTitle);

svg.append('text')
	.attr('transform', `translate(33,${(plot.top + plot.bottom) / 2}) rotate(-90)`)
	.attr('text-anchor', 'middle')
	.style('font-family', font)
	.style('font-size', '18px')
	.text(yTitle);

// legend
const legend = svg.append('g')
	.attr('transform', 'translate(906.5,495.5)');

legend.append('rect')
	.attr('width', 220)
	.attr('height', 48)
	.attr('fill', '#fff')
	.attr('stroke', '#000')
	.attr('stroke-width', 1);

legend.selectAll('line')
	.data(seriesNames)
	.enter()
	.append('line')
	.attr('x1', 4.5)
	.attr('x2', 39)
	.attr('y1', (d, i) => 13 + i * 23.5)
	.attr('y2', (d, i) => 13 + i * 23.5)
	.attr('stroke', (d, i) => i === 0 ? '#000080' : '#ff00ff')
	.attr('stroke-width', 2);

legend.selectAll('text')
	.data(seriesNames)
	.enter()
	.append('text')
	.attr('x', 43.5)
	.attr('y', (d, i) => 19 + i * 23.5)
	.style('font-family', font)
	.style('font-size', '16.5px')
	.text(d => d);
</script>
</body>
</html>
